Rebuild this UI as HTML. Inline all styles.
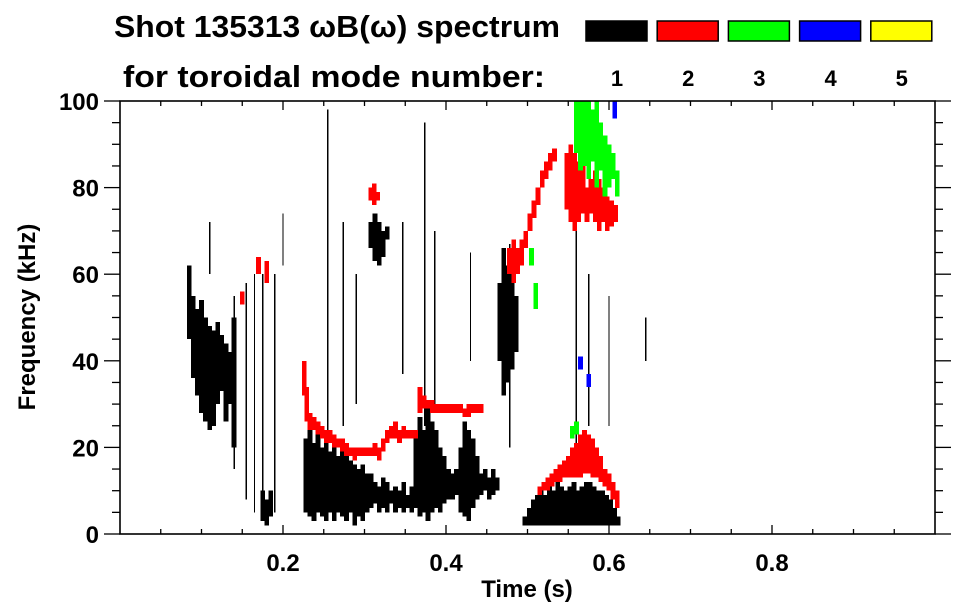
<!DOCTYPE html>
<html><head><meta charset="utf-8"><style>
body{margin:0;background:#fff;}
svg{display:block;font-family:"Liberation Sans",sans-serif;font-weight:bold;}
</style></head><body>
<svg id="chart" width="963" height="615" viewBox="0 0 963 615" xmlns="http://www.w3.org/2000/svg">
<text x="114" y="37" font-size="31" textLength="446" lengthAdjust="spacingAndGlyphs">Shot 135313 ωB(ω) spectrum</text>
<text x="123" y="87" font-size="31" textLength="422" lengthAdjust="spacingAndGlyphs">for toroidal mode number:</text>
<g id="legend"></g>
<g id="marks" shape-rendering="crispEdges"></g>
<g id="axes"></g>
</svg>
<script>
const modeColors=["#000000","#ff0000","#00ff00","#0000ff","#ffff00"];
const modeLabels=["1","2","3","4","5"];
const xTicks=[0.2,0.4,0.6,0.8];
const yTicks=[0,20,40,60,80,100];
const mode1Cols=[[.085,45,62],[.09,36,55],[.095,32,52],[.10,28,54],[.105,26,50],[.11,24,48],[.115,25,47],[.12,30,49],[.125,33,46],[.13,26,44],[.135,30,42],[.14,20,50],
[.175,3,10],[.18,2,8],[.185,4,10],
[.228,5,22],[.233,4,24],[.238,3,21],[.243,5,23],[.248,4,20],[.253,3,22],[.258,5,19],[.263,3,21],[.268,5,18],[.273,4,20],[.278,3,18],[.283,5,17],[.288,2,16],[.293,4,15],[.298,3,16],[.303,5,14],[.308,6,14],[.313,7,12],[.318,5,11],[.323,6,13],[.328,5,12],[.333,7,10],[.338,5,11],[.343,6,10],[.348,5,12],[.353,6,9],[.358,5,11],[.363,6,22],[.368,4,27],[.373,5,24],[.378,3,29],[.383,5,26],[.388,6,24],[.393,5,20],[.398,7,18],[.403,8,15],[.408,8,14],[.413,9,15],[.418,5,20],[.423,4,26],[.428,3,24],[.433,6,22],[.438,8,18],[.443,9,14],[.448,10,15],[.453,8,13],[.458,9,15],[.463,10,13],
[.308,66,72],[.313,63,74],[.318,62,72],[.323,64,70],[.328,68,71],
[.466,40,58],[.471,32,66],[.476,35,62],[.481,38,60],[.486,42,55],
[.497,2,4],[.502,2,6],[.507,2,8],[.512,2,9],[.517,2,10],[.522,2,9],[.527,2,11],[.532,2,10],[.537,2,12],[.542,2,11],[.547,2,10],[.552,2,11],[.557,2,12],[.562,2,10],[.567,2,11],[.572,2,12],[.577,2,12],[.582,2,11],[.587,2,10],[.592,2,10],[.597,2,9],[.602,2,8],[.607,2,6],[.611,2,4]];
const mode1Lines=[[.14,15,55],[.155,8,58],[.165,5,60],[.175,6,60],[.19,5,60],[.255,8,98],[.274,25,72],[.29,30,60],[.347,37,72],[.374,25,95],[.386,30,70],[.43,40,65],[.478,20,67],[.56,20,70],[.575,25,60],[.6,25,55],[.645,40,50],[.2,62,74],[.11,60,72]];
const mode2Cols=[[.226,32,40],[.229,26,34],[.233,24,28],[.238,24,27],[.243,23,26],[.248,22,25],[.253,21,24],[.258,21,24],[.263,20,23],[.268,20,22],[.273,19,22],[.278,18,21],[.283,18,20],[.288,17,20],[.293,18,20],[.298,18,20],[.303,18,20],[.308,18,20],[.313,18,21],[.318,17,20],[.323,19,22],[.328,21,24],[.333,22,25],[.338,22,26],[.343,21,24],[.348,22,25],[.353,22,24],[.358,22,24],[.363,22,24],[.368,28,34],[.373,29,32],[.378,29,31],[.383,28,31],[.388,28,30],[.393,28,30],[.398,28,30],[.403,28,30],[.408,28,30],[.413,28,30],[.418,28,30],[.423,27,29],[.428,27,30],[.433,28,30],[.438,28,30],[.443,28,30],
[.308,77,80],[.312,76,81],[.316,77,79],
[.478,60,66],[.483,58,68],[.488,60,66],[.493,62,68],[.498,66,70],[.503,70,74],[.508,73,77],[.513,76,80],[.518,80,84],[.523,82,86],[.528,84,88],[.533,86,89],
[.548,75,88],[.553,72,90],[.558,70,88],[.563,72,86],[.568,74,85],[.573,72,80],[.578,74,82],[.583,72,84],[.588,70,82],[.593,72,80],[.598,70,78],[.603,71,77],[.608,72,76],
[.515,9,11],[.52,10,12],[.525,10,13],[.53,11,14],[.535,12,15],[.54,12,16],[.545,13,17],[.55,13,18],[.555,13,20],[.56,13,21],[.565,13,23],[.57,14,24],[.575,14,23],[.58,13,22],[.585,13,20],[.59,12,18],[.595,11,15],[.6,10,14],[.605,8,12],[.61,6,10],
[.15,53,56],[.17,60,64],[.18,58,63]];
const mode3Cols=[[.56,88,100],[.565,84,100],[.57,85,100],[.575,82,100],[.58,86,98],[.585,80,100],[.59,84,95],[.595,78,92],[.6,80,90],[.605,82,88],[.61,78,84],[.505,62,66],[.51,52,58],[.555,22,25],[.56,23,26]];
const mode4Cols=[[.607,96,100],[.565,38,41],[.575,34,37]];

const NS="http://www.w3.org/2000/svg";
const L=120,R=935,T=101,B=534;
const xs=t=>L+(R-L)*t;
const ys=f=>B-(B-T)*f/100;
function mk(tag,attrs,parent){const e=document.createElementNS(NS,tag);for(const k in attrs)e.setAttribute(k,attrs[k]);parent.appendChild(e);return e;}
const marks=document.getElementById('marks');
const colW=(R-L)*0.0058;
function drawCols(cols,color,name){
  cols.forEach(c=>{
    const r=mk('rect',{x:xs(c[0])-colW/2,y:ys(c[2]),width:colW,height:Math.max(1,ys(c[1])-ys(c[2])),fill:color},marks);
    
    
  });
}
drawCols(mode1Cols,modeColors[0],'mode1-cell');
mode1Lines.forEach(c=>{
  const r=mk('rect',{x:xs(c[0])-0.7,y:ys(c[2]),width:1.4,height:ys(c[1])-ys(c[2]),fill:'#000'},marks);
  
  
});
drawCols(mode2Cols,modeColors[1],'mode2-cell');
drawCols(mode3Cols,modeColors[2],'mode3-cell');
drawCols(mode4Cols,modeColors[3],'mode4-cell');

const lg=document.getElementById('legend');
modeColors.forEach((c,i)=>{
  const x=586+i*71.2;
  const r=mk('rect',{x:x,y:21,width:61,height:20,fill:c,stroke:'#000','stroke-width':1.5},lg);
  
  
  const t=mk('text',{x:x+31,y:86,'font-size':22,'text-anchor':'middle'},lg);
  t.textContent=modeLabels[i];
  
  
});

const ax=document.getElementById('axes');
const frame=mk('rect',{x:L,y:T,width:R-L,height:B-T,fill:'none',stroke:'#000','stroke-width':1.6},ax);


for(let i=1;i<20;i++){
  const t=i*0.05,x=xs(t),len=(i%4===0)?9:5;
  mk('line',{x1:x,x2:x,y1:B,y2:B-len,stroke:'#000','stroke-width':1.3},ax);
  mk('line',{x1:x,x2:x,y1:T,y2:T+len,stroke:'#000','stroke-width':1.3},ax);
}
for(let i=0;i<=20;i++){
  const y=ys(i*5),len=(i%4===0)?16:8;
  mk('line',{x1:L,x2:L-len,y1:y,y2:y,stroke:'#000','stroke-width':1.3},ax);
  mk('line',{x1:R,x2:R+len,y1:y,y2:y,stroke:'#000','stroke-width':1.3},ax);
}
xTicks.forEach(v=>{
  const t=mk('text',{x:xs(v),y:571,'font-size':24,'text-anchor':'middle'},ax);
  t.textContent=v.toFixed(1);
  
  
});
yTicks.forEach(v=>{
  const t=mk('text',{x:99,y:ys(v)+9,'font-size':24,'text-anchor':'end'},ax);
  t.textContent=String(v);
  
  
});
const xt=mk('text',{x:527,y:597,'font-size':24,'text-anchor':'middle'},ax);
xt.textContent='Time (s)';


const yt=mk('text',{x:0,y:0,'font-size':24,'text-anchor':'middle',transform:'translate(35,317) rotate(-90)'},ax);
yt.textContent='Frequency (kHz)';


</script>
</body></html>
